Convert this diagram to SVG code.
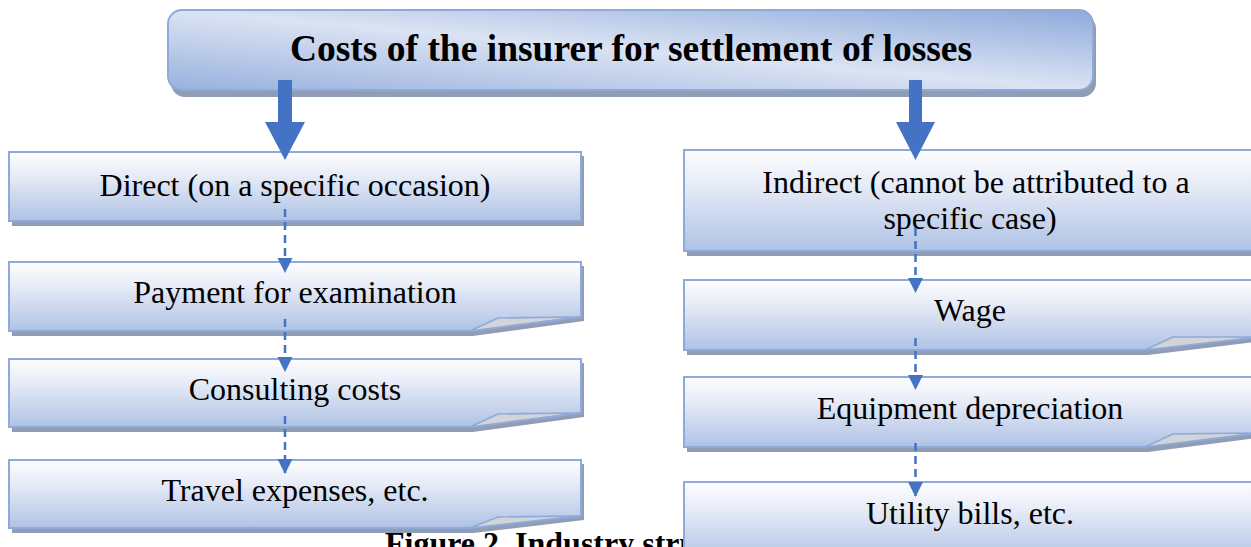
<svg xmlns="http://www.w3.org/2000/svg" width="1251" height="547" viewBox="0 0 1251 547">
<defs>
<linearGradient id="gTitle" x1="0" y1="1" x2="1" y2="0">
<stop offset="0" stop-color="#98b1de"/>
<stop offset="0.5" stop-color="#dbe3f3"/>
<stop offset="1" stop-color="#8eaadb"/>
</linearGradient>
<linearGradient id="gBox" x1="0" y1="0" x2="0" y2="1">
<stop offset="0" stop-color="#fefeff"/>
<stop offset="0.35" stop-color="#e6ebf6"/>
<stop offset="1" stop-color="#afc2e5"/>
</linearGradient>
<marker id="ah" markerUnits="userSpaceOnUse" markerWidth="16" markerHeight="16" viewBox="0 -8 15 16" refX="14" refY="0" orient="auto">
<path d="M0,-7.5 L15,0 L0,7.5 Z" fill="#4472c4"/>
</marker>
</defs>
<style>
.shadow{fill:#909db4}
.box{fill:url(#gBox);stroke:#8eaadb;stroke-width:2}
.title{fill:url(#gTitle);stroke:#8eaadb;stroke-width:2}
.curl{fill:#d2d4d8;stroke:#8eaadb;stroke-width:1.5;stroke-linejoin:round}
.t{font-family:"Liberation Serif","Times New Roman",serif;font-size:32px;fill:#000;text-anchor:middle}
.tb{font-family:"Liberation Serif","Times New Roman",serif;font-size:37.5px;font-weight:bold;fill:#000;text-anchor:middle}
.cap{font-family:"Liberation Serif","Times New Roman",serif;font-size:32px;font-weight:bold;fill:#000}
.dash{stroke:#4472c4;stroke-width:2.5;stroke-dasharray:8 5;fill:none}
.big{fill:#4472c4}
</style>
<text class="cap" x="385" y="554">Figure 2. Industry structure</text>
<g id="title">
<rect class="shadow" x="171" y="15" width="925" height="82" rx="14"/>
<rect class="title" x="168" y="10" width="925" height="80" rx="14"/>
<text class="tb" x="631" y="61">Costs of the insurer for settlement of losses</text>
</g>
<g id="direct">
<rect class="shadow" x="12" y="156" width="572" height="70"/>
<rect class="box" x="9" y="152" width="572" height="69"/>
<text class="t" x="295" y="196">Direct (on a specific occasion)</text>
</g>
<g id="payment">
<path class="shadow" d="M12,266 H584 V321 L473,336 H12 Z"/>
<path class="box" d="M9,262 H581 V317 L470,331 H9 Z"/>
<polygon class="curl" points="470,331 498,318 578,317"/>
<text class="t" x="295" y="303">Payment for examination</text>
</g>
<g id="consulting">
<path class="shadow" d="M12,363 H584 V417 L473,432 H12 Z"/>
<path class="box" d="M9,359 H581 V413 L470,427 H9 Z"/>
<polygon class="curl" points="470,427 498,414 578,413"/>
<text class="t" x="295" y="400">Consulting costs</text>
</g>
<g id="travel">
<path class="shadow" d="M12,464 H584 V520 L473,533 H12 Z"/>
<path class="box" d="M9,460 H581 V516 L470,528 H9 Z"/>
<polygon class="curl" points="470,528 498,517 578,516"/>
<text class="t" x="295" y="501">Travel expenses, etc.</text>
</g>
<g id="indirect">
<rect class="shadow" x="687" y="154" width="580" height="102"/>
<rect class="box" x="684" y="150" width="580" height="101"/>
<text class="t" x="976" y="193">Indirect (cannot be attributed to a</text>
<text class="t" x="970" y="229">specific case)</text>
</g>
<g id="wage">
<path class="shadow" d="M687,284 H1264 V341 L1148,355 H687 Z"/>
<path class="box" d="M684,280 H1260 V337 L1145,350 H684 Z"/>
<polygon class="curl" points="1145,350 1173,337 1258,337"/>
<text class="t" x="970" y="321">Wage</text>
</g>
<g id="depreciation">
<path class="shadow" d="M687,381 H1264 V437 L1148,452 H687 Z"/>
<path class="box" d="M684,377 H1260 V433 L1145,447 H684 Z"/>
<polygon class="curl" points="1145,447 1173,434 1258,433"/>
<text class="t" x="970" y="419">Equipment depreciation</text>
</g>
<g id="utility">
<rect class="shadow" x="687" y="486" width="580" height="80"/>
<rect class="box" x="684" y="482" width="580" height="80"/>
<text class="t" x="970" y="524">Utility bills, etc.</text>
</g>
<g id="connectors">
<polygon class="big" points="278,80 292,80 292,122 305,122 285,160 265,122 278,122"/>
<polygon class="big" points="909,80 922,80 922,122 935,122 915.5,160 896,122 909,122"/>
<line class="dash" x1="285" y1="209" x2="285" y2="272" marker-end="url(#ah)"/>
<line class="dash" x1="285" y1="319" x2="285" y2="371" marker-end="url(#ah)"/>
<line class="dash" x1="285" y1="416" x2="285" y2="473" marker-end="url(#ah)"/>
<line class="dash" x1="915.5" y1="228" x2="915.5" y2="292" marker-end="url(#ah)"/>
<line class="dash" x1="915.5" y1="338" x2="915.5" y2="389" marker-end="url(#ah)"/>
<line class="dash" x1="915.5" y1="443" x2="915.5" y2="496" marker-end="url(#ah)"/>
</g>
</svg>
